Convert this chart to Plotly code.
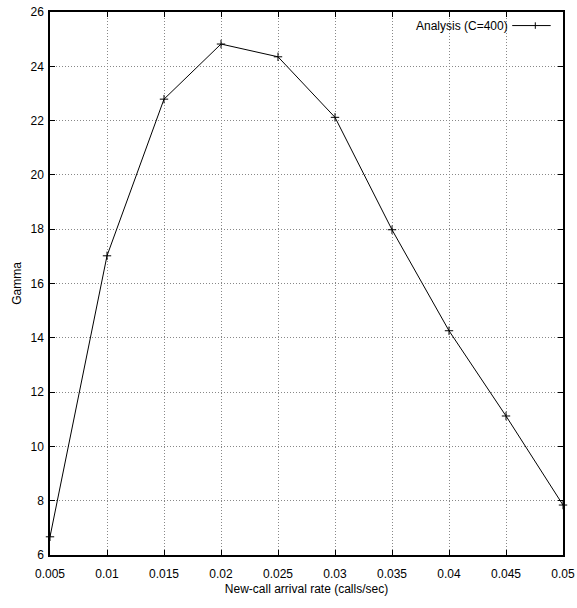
import plotly.graph_objects as go

arrival_rate = [0.005, 0.01, 0.015, 0.02, 0.025, 0.03, 0.035, 0.04, 0.045, 0.05]
gamma = [6.67, 17.02, 22.79, 24.82, 24.35, 22.12, 17.98, 14.26, 11.12, 7.84]
x_ticks = [0.005, 0.01, 0.015, 0.02, 0.025, 0.03, 0.035, 0.04, 0.045, 0.05]
x_tick_labels = ["0.005", "0.01", "0.015", "0.02", "0.025", "0.03", "0.035", "0.04", "0.045", "0.05"]
y_ticks = [6, 8, 10, 12, 14, 16, 18, 20, 22, 24, 26]
series_name = "Analysis (C=400)"

FONT = "Liberation Sans Narrow, Liberation Sans, Arial, sans-serif"

fig = go.Figure()
fig.add_trace(go.Scatter(
    x=arrival_rate, y=gamma, mode="lines+markers", name=series_name,
    line=dict(color="black", width=1),
    marker=dict(symbol="cross-thin", size=6, line=dict(color="black", width=1), color="black"),
    showlegend=False, cliponaxis=False,
))

axis_common = dict(
    showline=True, linecolor="black", linewidth=1.5, mirror="ticks",
    ticks="inside", ticklen=5, tickcolor="black", tickwidth=1,
    showgrid=True, gridcolor="#888888", griddash="1px,2px", gridwidth=1,
    zeroline=False, tickfont=dict(family=FONT, size=12, color="black"),
    automargin=False, ticklabeloverflow="allow",
)

fig.update_xaxes(range=[0.005, 0.05], tickvals=x_ticks, ticktext=x_tick_labels,
                 ticklabelstandoff=7,
                 title=dict(text="New-call arrival rate (calls/sec)", font=dict(family=FONT, size=12, color="black"), standoff=4),
                 **axis_common)
fig.update_yaxes(range=[6, 26], tickvals=y_ticks, ticklabelstandoff=2,
                 title=dict(text="Gamma", font=dict(family=FONT, size=12, color="black"), standoff=6),
                 **axis_common)

# gnuplot-style key: text then sample line
fig.add_annotation(xref="paper", yref="paper", x=0.897, y=0.975, text=series_name,
                   showarrow=False, xanchor="right", yanchor="middle",
                   font=dict(family=FONT, size=12, color="black"))
fig.add_shape(type="line", xref="paper", yref="paper", x0=0.901, x1=0.976, y0=0.975, y1=0.975,
              line=dict(color="black", width=1))
fig.add_shape(type="line", xref="paper", yref="paper", x0=0.946, x1=0.946, y0=0.969, y1=0.981,
              line=dict(color="black", width=1))

fig.update_layout(
    width=577, height=608,
    margin=dict(l=50, r=14, t=12, b=53),
    plot_bgcolor="white", paper_bgcolor="white",
    font=dict(family=FONT, color="black"),
)

# remove the default 8px page margin so the figure sits at the window's corner
fig.write_html("out.html", config={"displayModeBar": False},
               post_script="document.body.style.margin='0';")
